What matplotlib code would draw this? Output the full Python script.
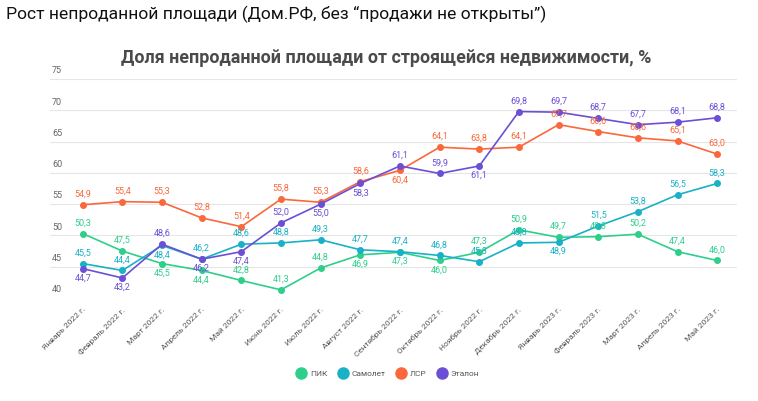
import matplotlib
matplotlib.use("Agg")
import numpy as np
from matplotlib import pyplot as plt
from matplotlib.transforms import blended_transform_factory

months = [
    "Январь 2022 г.", "Февраль 2022 г.", "Март 2022 г.", "Апрель 2022 г.",
    "Май 2022 г.", "Июнь 2022 г.", "Июль 2022 г.", "Август 2022 г.",
    "Сентябрь 2022 г.", "Октябрь 2022 г.", "Ноябрь 2022 г.", "Декабрь 2022 г.",
    "Январь 2023 г.", "Февраль 2023 г.", "Март 2023 г.", "Апрель 2023 г.",
    "Май 2023 г.",
]

pik = [50.3, 47.5, 45.5, 44.4, 42.8, 41.3, 44.8, 46.9, 47.3, 46.0, 47.3, 50.9,
       49.7, 49.8, 50.2, 47.4, 46.0]
samolet = [45.5, 44.4, 48.4, 46.2, 48.6, 48.8, 49.3, 47.7, 47.4, 46.8, 45.8, 48.8,
           48.9, 51.5, 53.8, 56.5, 58.3]
lsr = [54.9, 55.4, 55.3, 52.8, 51.4, 55.8, 55.3, 58.6, 60.4, 64.1, 63.8, 64.1,
       67.7, 66.6, 65.6, 65.1, 63.0]
etalon = [44.7, 43.2, 48.6, 46.2, 47.4, 52.0, 55.0, 58.3, 61.1, 59.9, 61.1, 69.8,
          69.7, 68.7, 67.7, 68.1, 68.8]

# where the value label sits: 1 above the point, -1 below
pik_pos = [1, 1, -1, -1, 1, 1, 1, -1, -1, -1, 1, 1, 1, 1, 1, 1, 1]
samolet_pos = [1, 1, -1, 1, 1, 1, 1, 1, 1, 1, 1, 1, -1, 1, 1, 1, 1]
lsr_pos = [1, 1, 1, 1, 1, 1, 1, 1, -1, 1, 1, 1, 1, 1, 1, 1, 1]
etalon_pos = [-1, -1, 1, -1, -1, 1, -1, -1, 1, 1, -1, 1, 1, 1, 1, 1, 1]

series = [
    ("ПИК", pik, pik_pos, "#2ecf8b"),
    ("Самолет", samolet, samolet_pos, "#18b1c6"),
    ("ЛСР", lsr, lsr_pos, "#fa683c"),
    ("Эталон", etalon, etalon_pos, "#6c4fd5"),
]

plt.rcParams["font.family"] = ["Roboto", "DejaVu Sans"]

fig = plt.figure(figsize=(7.58, 4.01), dpi=100)
ax = fig.add_axes([50 / 758, 1 - 298 / 401, 687 / 758, 219 / 401])

x = np.arange(len(months))
for name, vals, pos, color in series:
    ax.plot(x, vals, color=color, lw=1.2, marker="o", ms=4, label=name, zorder=3)
    for xi, v, p in zip(x, vals, pos):
        ax.annotate(f"{v:.1f}".replace(".", ","), (xi, v),
                    xytext=(0, 4.5 if p > 0 else -3.5),
                    textcoords="offset points", ha="center",
                    va="bottom" if p > 0 else "top", fontsize=6.5, color=color,
                    zorder=4)

ax.set_xlim(-0.825, len(months) - 0.5)
ax.set_ylim(40, 75)
yticks = np.arange(40, 76, 5)
ax.set_yticks(yticks)
ax.set_yticklabels([])
ax.tick_params(axis="y", length=0)
trans = blended_transform_factory(ax.transAxes, ax.transData)
for t in yticks:
    ax.text(0.003, t + 0.6, str(t), transform=trans, fontsize=6.5, color="#666666",
            ha="left", va="bottom")
ax.grid(axis="y", color="#e6e6e6", lw=0.8)
ax.set_axisbelow(True)
for s in ax.spines.values():
    s.set_visible(False)

ax.set_xticks(x)
ax.set_xticklabels(months, rotation=45, ha="right", rotation_mode="anchor",
                   fontsize=6, color="#555555")
ax.tick_params(axis="x", length=0, pad=6)

fig.text(6 / 758, 1 - 14 / 401, "Рост непроданной площади (Дом.РФ, без “продажи не открыты”)",
         fontsize=12.6, color="#111111", ha="left", va="center")
fig.text(386 / 758, 1 - 58 / 401, "Доля непроданной площади от строящейся недвижимости, %",
         fontsize=12.9, fontweight="bold", color="#4a4a4a", ha="center", va="center")

handles = [plt.Line2D([], [], ls="", marker="o", ms=8, color=c) for _, _, _, c in series]
fig.legend(handles, [s[0] for s in series], loc="center", ncol=4,
           bbox_to_anchor=(386 / 758, 1 - 374 / 401), frameon=False, fontsize=6,
           handletextpad=0.1, columnspacing=0.8, labelcolor="#555555")

fig.savefig("out.png", dpi=100, facecolor="white")
